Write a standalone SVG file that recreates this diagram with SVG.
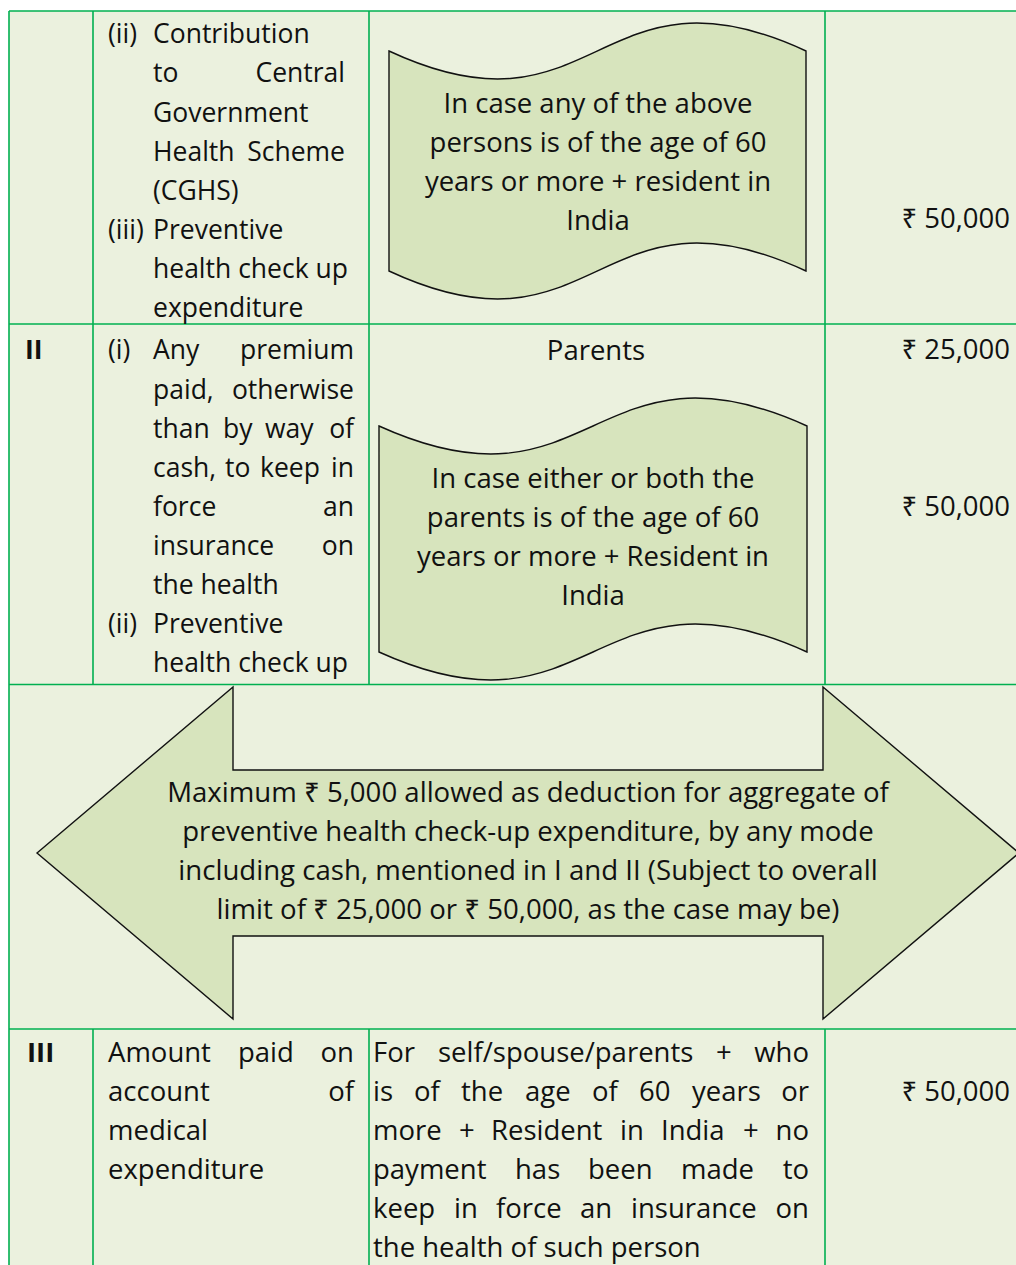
<svg xmlns="http://www.w3.org/2000/svg" width="1016" height="1265" viewBox="0 0 1016 1265">
<style>
.t{font-family:"Open Sans","Noto Sans",sans-serif;font-size:26.5px;fill:#111}
.L{font-size:27.5px}
.b{font-weight:bold}
.c{text-anchor:middle}
.e{text-anchor:end}
.grid{stroke:#00B050;stroke-width:1.6;fill:none}
.shape{fill:#D7E4BD;stroke:#111;stroke-width:1.4;stroke-linejoin:miter}
</style>
<rect x="0" y="0" width="1016" height="1265" fill="#ffffff"/>
<rect x="9" y="11" width="1007" height="1254" fill="#EBF1DE"/>
<g id="grid" class="grid">
<line x1="9" y1="11" x2="1016" y2="11"/>
<line x1="9" y1="324" x2="1016" y2="324"/>
<line x1="9" y1="684.5" x2="1016" y2="684.5"/>
<line x1="9" y1="1029" x2="1016" y2="1029"/>
<line x1="9" y1="11" x2="9" y2="1265"/>
<line x1="93" y1="11" x2="93" y2="684.5"/>
<line x1="369" y1="11" x2="369" y2="684.5"/>
<line x1="825" y1="11" x2="825" y2="684.5"/>
<line x1="93" y1="1029" x2="93" y2="1265"/>
<line x1="369" y1="1029" x2="369" y2="1265"/>
<line x1="825" y1="1029" x2="825" y2="1265"/>
</g>
<g id="row1-items" class="t">
<text x="108" y="43">(ii)</text>
<text x="153" y="43">Contribution</text>
<text x="153" y="82">to</text>
<text x="345" y="82" class="e">Central</text>
<text x="153" y="121.5">Government</text>
<text x="153" y="160.5">Health</text>
<text x="345" y="160.5" class="e">Scheme</text>
<text x="153" y="200">(CGHS)</text>
<text x="108" y="239">(iii)</text>
<text x="153" y="239">Preventive</text>
<text x="153" y="278">health check up</text>
<text x="153" y="317">expenditure</text>
</g>
<g id="scroll1">
<path class="shape" d="M389,51 C597,148 597,-46 806,51 L806,271 C597,174 597,368 389,271 Z"/>
<text class="t L c" x="598" y="113">In case any of the above</text>
<text class="t L c" x="598" y="152">persons is of the age of 60</text>
<text class="t L c" x="598" y="191">years or more + resident in</text>
<text class="t L c" x="598" y="230">India</text>
</g>
<g id="row1-amount" class="t L">
<text x="1010" y="228" class="e">₹ 50,000</text>
</g>
<g id="row2-items" class="t">
<text x="25" y="359" class="b">II</text>
<text x="108" y="359">(i)</text>
<text x="153" y="359">Any</text>
<text x="354" y="359" class="e">premium</text>
<text x="153" y="398.5">paid,</text>
<text x="354" y="398.5" class="e">otherwise</text>
<text x="153" y="437.5">than</text>
<text x="223" y="437.5">by</text>
<text x="265" y="437.5">way</text>
<text x="354" y="437.5" class="e">of</text>
<text x="153" y="476.5">cash,</text>
<text x="225" y="476.5">to</text>
<text x="260" y="476.5">keep</text>
<text x="354" y="476.5" class="e">in</text>
<text x="153" y="516">force</text>
<text x="354" y="516" class="e">an</text>
<text x="153" y="555">insurance</text>
<text x="354" y="555" class="e">on</text>
<text x="153" y="594">the health</text>
<text x="108" y="633">(ii)</text>
<text x="153" y="633">Preventive</text>
<text x="153" y="672">health check up</text>
</g>
<g id="row2-condition">
<text class="t L c" x="596" y="360">Parents</text>
</g>
<g id="scroll2">
<path class="shape" d="M379,426 C593,523 593,329 807,426 L807,652 C593,555 593,749 379,652 Z"/>
<text class="t L c" x="593" y="488">In case either or both the</text>
<text class="t L c" x="593" y="527">parents is of the age of 60</text>
<text class="t L c" x="593" y="566">years or more + Resident in</text>
<text class="t L c" x="593" y="605">India</text>
</g>
<g id="row2-amounts" class="t L">
<text x="1010" y="359" class="e">₹ 25,000</text>
<text x="1010" y="516" class="e">₹ 50,000</text>
</g>
<g id="arrow">
<path class="shape" d="M37,853 L233,687 L233,770 L823,770 L823,687 L1019,853 L823,1019 L823,936 L233,936 L233,1019 Z"/>
<text class="t c" style="font-size:27.6px" x="528" y="802">Maximum ₹ 5,000 allowed as deduction for aggregate of</text>
<text class="t c" style="font-size:27.6px" x="528" y="841">preventive health check-up expenditure, by any mode</text>
<text class="t c" style="font-size:27.6px" x="528" y="880">including cash, mentioned in I and II (Subject to overall</text>
<text class="t c" style="font-size:27.6px" x="528" y="919">limit of ₹ 25,000 or ₹ 50,000, as the case may be)</text>
</g>
<g id="row3-items" class="t L">
<text x="27" y="1062" class="b">III</text>
<text x="108" y="1062">Amount</text>
<text x="238" y="1062">paid</text>
<text x="354" y="1062" class="e">on</text>
<text x="108" y="1101">account</text>
<text x="354" y="1101" class="e">of</text>
<text x="108" y="1140">medical</text>
<text x="108" y="1179">expenditure</text>
</g>
<g id="row3-condition" class="t L">
<text x="373" y="1062">For</text>
<text x="438" y="1062">self/spouse/parents</text>
<text x="716" y="1062">+</text>
<text x="809" y="1062" class="e">who</text>
<text x="373" y="1101">is</text>
<text x="414" y="1101">of</text>
<text x="461" y="1101">the</text>
<text x="525" y="1101">age</text>
<text x="592" y="1101">of</text>
<text x="639" y="1101">60</text>
<text x="692" y="1101">years</text>
<text x="809" y="1101" class="e">or</text>
<text x="373" y="1140">more</text>
<text x="459" y="1140">+</text>
<text x="491" y="1140">Resident</text>
<text x="620" y="1140">in</text>
<text x="661" y="1140">India</text>
<text x="743" y="1140">+</text>
<text x="809" y="1140" class="e">no</text>
<text x="373" y="1179">payment</text>
<text x="515" y="1179">has</text>
<text x="588" y="1179">been</text>
<text x="681" y="1179">made</text>
<text x="809" y="1179" class="e">to</text>
<text x="373" y="1218">keep</text>
<text x="454" y="1218">in</text>
<text x="496" y="1218">force</text>
<text x="580" y="1218">an</text>
<text x="631" y="1218">insurance</text>
<text x="809" y="1218" class="e">on</text>
<text x="373" y="1257">the health of such person</text>
</g>
<g id="row3-amount" class="t L">
<text x="1010" y="1101" class="e">₹ 50,000</text>
</g>
<g id="connectors"/>
</svg>
